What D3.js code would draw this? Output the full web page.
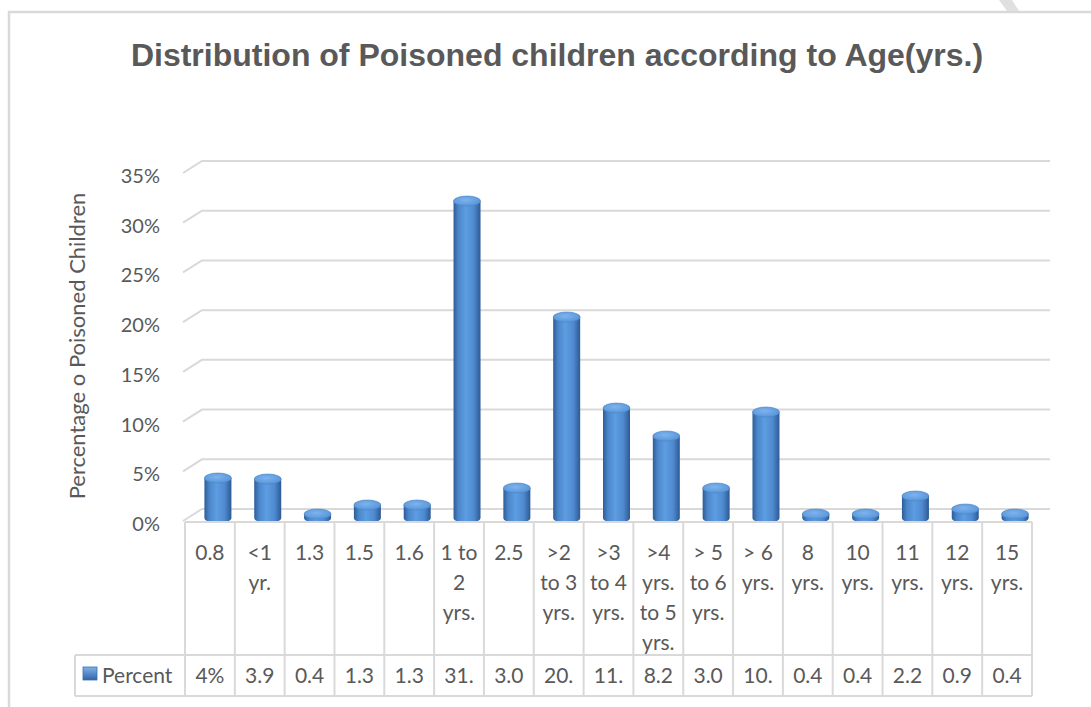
<!DOCTYPE html>
<html>
<head>
<meta charset="utf-8">
<script src="https://cdn.jsdelivr.net/npm/d3@7"></script>
<style>
  body { margin: 0; background: #fff; }
  svg text { fill: #595959; }
</style>
</head>
<body>
<div id="chart"></div>
<script>
const WIDTH = 1091;
const HEIGHT = 707;

// data
const CATEGORIES = ["0.8", "<1|yr.", "1.3", "1.5", "1.6", "1 to|2|yrs.", "2.5", ">2|to 3|yrs.",
  ">3|to 4|yrs.", ">4|yrs.|to 5|yrs.", "> 5|to 6|yrs.", "> 6|yrs.", "8|yrs.", "10|yrs.",
  "11|yrs.", "12|yrs.", "15|yrs."];
const PERCENT = [4.0, 3.9, 0.4, 1.3, 1.3, 31.7, 3.0, 20.1, 11.0, 8.2, 3.0, 10.6, 0.4, 0.4, 2.2, 0.9, 0.4];
const PERCENT_LABELS = ["4%", "3.9", "0.4", "1.3", "1.3", "31.", "3.0", "20.", "11.", "8.2", "3.0",
  "10.", "0.4", "0.4", "2.2", "0.9", "0.4"];
const Y_TICKS = [0, 5, 10, 15, 20, 25, 30, 35];

const FONT = "Lato, 'Open Sans', sans-serif";
const GRID = "#d9d9d9";

const svg = d3.select("#chart")
  .append("svg")
  .attr("width", WIDTH)
  .attr("height", HEIGHT);

// outer chart frame
svg.append("path")
  .attr("d", `M9,${HEIGHT} L9,12 L${WIDTH},12`)
  .attr("fill", "none")
  .attr("stroke", GRID)
  .attr("stroke-width", 2.5);
svg.append("polygon")
  .attr("points", "999,0 1012,0 1019,11 1007,11")
  .attr("fill", "#e0e0e0");

// scales: front plane, back plane, and bars sitting in between
const xScale = d3.scaleBand()
  .domain(CATEGORIES)
  .range([185, 1032])
  .padding(0);
const yFront = d3.scaleLinear().domain([0, 35]).range([521, 173]);
const yBack = d3.scaleLinear().domain([0, 35]).range([509, 161]);
const yBar = d3.scaleLinear().domain([0, 35]).range([518, 168]);

// gridlines with 3D depth
svg.append("g")
  .selectAll("path")
  .data(Y_TICKS)
  .enter()
  .append("path")
  .attr("d", d => `M183,${yFront(d)} L202,${yBack(d)} L1050,${yBack(d)}`)
  .attr("fill", "none")
  .attr("stroke", GRID)
  .attr("stroke-width", 2);

// y tick labels
svg.append("g")
  .selectAll("text")
  .data(Y_TICKS)
  .enter()
  .append("text")
  .attr("x", 160)
  .attr("y", d => yFront(d) + 3)
  .attr("dy", "0.35em")
  .style("font-family", FONT)
  .style("font-size", "20px")
  .style("text-anchor", "end")
  .text(d => d + "%");

// y axis title
svg.append("text")
  .attr("transform", `translate(77, 346) rotate(-90)`)
  .attr("dy", "0.35em")
  .style("font-family", FONT)
  .style("font-size", "22px")
  .style("text-anchor", "middle")
  .text("Percentage o Poisoned Children");

// title
svg.append("text")
  .attr("x", 557)
  .attr("y", 55)
  .attr("dy", "0.35em")
  .style("font-family", "'Liberation Sans', Arial, sans-serif")
  .style("font-weight", "bold")
  .style("font-size", "32px")
  .style("text-anchor", "middle")
  .text("Distribution of Poisoned children according to Age(yrs.)");

// gradients for the cylinders
const defs = svg.append("defs");
const bodyGrad = defs.append("linearGradient").attr("id", "cylBody");
[["0%", "#2e5c96"], ["18%", "#4b86ca"], ["45%", "#5d9de2"], ["75%", "#4f8ad0"], ["100%", "#2d5a93"]]
  .forEach(s => bodyGrad.append("stop").attr("offset", s[0]).attr("stop-color", s[1]));
const capGrad = defs.append("radialGradient").attr("id", "cylCap")
  .attr("cx", "45%").attr("cy", "40%").attr("r", "65%");
[["0%", "#7db4ee"], ["100%", "#5592d6"]]
  .forEach(s => capGrad.append("stop").attr("offset", s[0]).attr("stop-color", s[1]));
const keyGrad = defs.append("linearGradient").attr("id", "keyGrad")
  .attr("x1", 0).attr("y1", 0).attr("x2", 0).attr("y2", 1);
[["0%", "#7fb3ea"], ["100%", "#2f63a6"]]
  .forEach(s => keyGrad.append("stop").attr("offset", s[0]).attr("stop-color", s[1]));

const RX = 13.5;
const RY = 5;
const barCx = (d, i) => xScale(CATEGORIES[i]) + xScale.bandwidth() / 2 + 8;

const bars = svg.append("g")
  .selectAll("g")
  .data(PERCENT)
  .enter()
  .append("g");

bars.append("path")
  .attr("d", (d, i) => {
    const cx = barCx(d, i);
    const top = yBar(d);
    const base = yBar(0);
    return `M${cx - RX},${top} L${cx - RX},${base} A${RX},${RY} 0 0 0 ${cx + RX},${base} L${cx + RX},${top} Z`;
  })
  .attr("fill", "url(#cylBody)");

bars.append("ellipse")
  .attr("cx", (d, i) => barCx(d, i))
  .attr("cy", d => yBar(d))
  .attr("rx", RX)
  .attr("ry", RY)
  .attr("fill", "url(#cylCap)")
  .attr("stroke", "#4a84c8")
  .attr("stroke-width", 0.6);

// data table below the plot
const TABLE_TOP = 522;
const ROW_SPLIT = 655;
const TABLE_BOTTOM = 696;
const table = svg.append("g")
  .attr("stroke", GRID)
  .attr("stroke-width", 2)
  .attr("fill", "none");

table.append("line").attr("x1", 185).attr("x2", 1032).attr("y1", TABLE_TOP).attr("y2", TABLE_TOP);
table.append("line").attr("x1", 75).attr("x2", 1032).attr("y1", ROW_SPLIT).attr("y2", ROW_SPLIT);
table.append("line").attr("x1", 75).attr("x2", 1032).attr("y1", TABLE_BOTTOM).attr("y2", TABLE_BOTTOM);
table.append("line").attr("x1", 75).attr("x2", 75).attr("y1", ROW_SPLIT).attr("y2", TABLE_BOTTOM);
table.selectAll(".col")
  .data(CATEGORIES.concat(["end"]))
  .enter()
  .append("line")
  .attr("class", "col")
  .attr("x1", (d, i) => i < CATEGORIES.length ? xScale(d) : xScale.range()[1])
  .attr("x2", (d, i) => i < CATEGORIES.length ? xScale(d) : xScale.range()[1])
  .attr("y1", TABLE_TOP)
  .attr("y2", TABLE_BOTTOM);

// category labels (wrapped)
const catText = svg.append("g")
  .selectAll("text")
  .data(CATEGORIES)
  .enter()
  .append("text")
  .attr("x", d => xScale(d) + xScale.bandwidth() / 2)
  .attr("y", 553)
  .style("font-family", FONT)
  .style("font-size", "21px")
  .style("text-anchor", "middle");
catText.selectAll("tspan")
  .data(d => d.split("|"))
  .enter()
  .append("tspan")
  .attr("x", function () { return d3.select(this.parentNode).attr("x"); })
  .attr("y", (d, i) => 553 + i * 30)
  .attr("dy", "0.35em")
  .text(d => d);

// value row
svg.append("g")
  .selectAll("text")
  .data(PERCENT_LABELS)
  .enter()
  .append("text")
  .attr("x", (d, i) => xScale(CATEGORIES[i]) + xScale.bandwidth() / 2)
  .attr("y", 676)
  .attr("dy", "0.35em")
  .style("font-family", FONT)
  .style("font-size", "21px")
  .style("text-anchor", "middle")
  .text(d => d);

// legend key in the table
svg.append("rect")
  .attr("x", 83)
  .attr("y", 667)
  .attr("width", 14)
  .attr("height", 13)
  .attr("fill", "url(#keyGrad)")
  .attr("stroke", "#3a6fb0")
  .attr("stroke-width", 0.8);
svg.append("text")
  .attr("x", 102)
  .attr("y", 676)
  .attr("dy", "0.35em")
  .style("font-family", FONT)
  .style("font-size", "21px")
  .text("Percent");
</script>
</body>
</html>
